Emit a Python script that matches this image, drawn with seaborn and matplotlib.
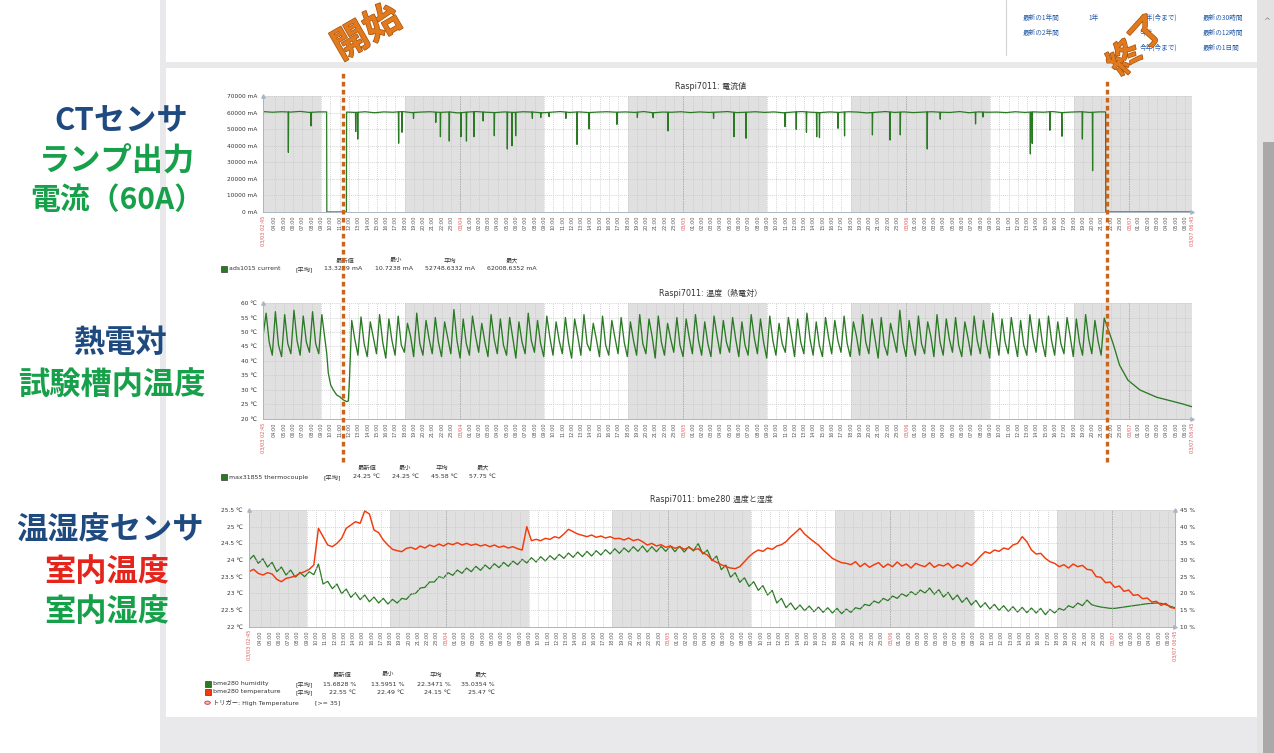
import numpy as np
import pandas as pd
import matplotlib
matplotlib.use("Agg")
import matplotlib.pyplot as plt
from matplotlib.patches import Rectangle, Circle
from matplotlib.lines import Line2D
import matplotlib.patheffects as pe
import seaborn as sns

# ------------------------------------------------------------------ data
START_LABEL = "03/03 02:45"
END_LABEL = "03/07 06:45"
SPAN_HOURS = 100          # 03/03 02:45 -> 03/07 06:45
START_CLOCK = 2.75        # 02:45
FIRST_DAY = 3

nonwork_start = [0.0, 15.25, 39.25, 63.25, 87.25]
nonwork_end = [6.25, 30.25, 54.25, 78.25, 100.0]

event_hours = [8.6, 90.85]
event_labels = ["開始", "終了"]

chart_titles = ["Raspi7011: 電流値", "Raspi7011: 温度（熱電対）", "Raspi7011: bme280 温度と湿度"]

# CT sensor current (mA): hourly baseline while the lamp is on, plus short dips
cur_on1_start, cur_on1_end = 0.0, 6.85
cur_on1 = [60600, 60200, 60500, 60300, 60700, 60100, 60400]
cur_on2_start, cur_on2_end = 9.0, 90.7
cur_on2 = [60300, 60100, 60500, 59900, 60400, 60200, 60600, 60000, 60300, 60500,
           60100, 60400, 59800, 60300, 60600, 60200, 60000, 60400, 60100, 60500,
           60300, 59900, 60200, 60600, 60100, 60400, 60000, 60300, 60500, 60200,
           60400, 60100, 60600, 59900, 60300, 60200, 60500, 60000, 60400, 60100,
           60300, 60600, 60000, 60200, 60500, 60100, 60400, 59900, 60300, 60600,
           60200, 60000, 60400, 60100, 60500, 60300, 59800, 60200, 60600, 60100,
           60400, 60000, 60300, 60500, 60200, 60100, 60600, 59900, 60400, 60200,
           60300, 60000, 60500, 60100, 60400, 60200, 60600, 60000, 60300, 60500,
           60100, 60400]
cur_off_mA = 12.0
spike_h = [2.73, 5.17, 9.98, 10.2, 14.6, 14.96, 16.2, 18.6, 19.1, 20.05,
           21.3, 21.9, 22.7, 23.7, 24.9, 26.3, 26.8, 27.2, 29.0, 29.9,
           30.8, 32.6, 33.8, 35.1, 38.1, 40.3, 42.0, 43.6, 48.5, 50.7,
           52.0, 56.2, 57.4, 58.5, 59.6, 59.9, 61.9, 62.6, 65.6, 67.5,
           68.6, 71.5, 72.9, 76.7, 77.5, 82.6, 82.8, 84.7, 86.0, 88.2, 89.3]
spike_mA = [36000, 51900, 48500, 44000, 41500, 48100, 56500, 54100, 45400, 42800,
            45400, 42800, 45400, 54900, 46000, 38000, 40000, 46000, 56500, 57000,
            57500, 56500, 40800, 50100, 52900, 57000, 56900, 48900, 56500, 45400,
            44500, 51500, 49900, 48100, 45400, 44900, 50500, 45900, 46500, 43400,
            46500, 38000, 56000, 53100, 57300, 35000, 41400, 49300, 45700, 44000, 24900]

# thermocouple (deg C)
tc_run1 = [48.5, 56.5, 46.5, 42.0, 57.0, 45.5, 41.5, 56.0, 46.0, 42.5,
           57.5, 47.0, 42.0, 55.5, 46.5, 43.0, 57.0, 46.0, 42.5, 56.0]   # every 20 min
tc_off_h = [6.55, 6.86, 7.03, 7.29, 7.57, 7.93, 8.29, 8.64, 9.0, 9.18, 9.3]
tc_off_c = [50.5, 42.6, 35.8, 31.7, 30.0, 28.3, 27.6, 26.6, 26.0, 26.2, 33.0]
tc_run2_start = 9.55
tc_peak = [54.0, 55.2, 53.5, 56.0, 54.5, 55.5, 53.0, 56.5, 54.0, 55.0,
           53.5, 57.75, 54.5, 55.5, 53.0, 56.0, 54.5, 55.0, 53.5, 56.5,
           54.0, 55.5, 53.5, 55.0, 54.5, 56.0, 53.0, 55.5, 54.0, 55.0,
           53.5, 56.0, 54.5, 55.5, 53.0, 55.0, 54.5, 56.0, 53.5, 55.5,
           54.0, 55.0, 53.5, 56.0, 54.5, 55.5, 53.0, 55.0, 54.5, 56.5,
           53.5, 55.0, 54.0, 55.5, 53.5, 56.0, 54.5, 55.0, 53.0, 57.5,
           54.0, 55.5, 53.5, 56.0, 54.5, 55.0, 53.5, 55.5, 54.0, 56.5,
           54.5, 55.0, 54.0, 56.0, 54.5, 55.5, 53.5, 55.0, 54.5, 56.0,
           54.0, 54.8]
tc_mid = [47.5, 46.0, 48.0, 46.5, 47.0, 45.5, 48.5, 46.0, 47.5, 46.5,
          48.0, 47.0, 46.0, 48.5, 46.5, 47.5, 45.5, 48.0, 46.5, 47.0,
          46.0, 48.0, 47.0, 46.5, 48.5, 46.0, 47.5, 45.5, 48.0, 46.5,
          47.0, 46.0, 48.5, 46.5, 47.5, 45.5, 48.0, 47.0, 46.0, 48.5,
          46.5, 47.5, 45.5, 48.0, 46.5, 47.0, 46.0, 48.5, 46.5, 47.5,
          45.5, 48.0, 47.0, 46.0, 48.5, 46.5, 47.5, 45.5, 48.0, 46.5,
          47.0, 46.0, 48.5, 46.5, 47.5, 45.5, 48.0, 47.0, 46.0, 48.0,
          46.5, 47.5, 45.5, 48.0, 46.5, 47.0, 46.0, 48.5, 46.5, 47.5,
          47.0]
tc_low = [42.0, 41.5, 42.5, 41.0, 42.0, 43.0, 41.5, 42.0, 42.5, 41.5,
          42.5, 41.0, 42.0, 43.0, 41.5, 42.5, 42.0, 41.0, 42.5, 43.0,
          41.5, 42.0, 42.5, 41.0, 42.0, 43.5, 41.5, 42.0, 42.5, 41.5,
          42.0, 42.5, 41.0, 42.0, 43.0, 41.5, 42.5, 42.0, 41.5, 42.5,
          43.0, 41.5, 42.0, 42.5, 41.0, 42.0, 43.0, 41.5, 42.5, 42.0,
          41.5, 42.5, 43.0, 41.5, 42.0, 42.5, 41.0, 42.0, 43.0, 41.5,
          42.0, 42.5, 41.5, 42.0, 43.0, 41.5, 42.0, 42.5, 41.0, 42.0,
          42.5, 41.5, 42.0, 43.0, 41.5, 42.0, 42.5, 41.5, 42.0, 42.5,
          42.0]
tc_cool_h = [91.0, 91.5, 92.2, 93.1, 94.4, 96.2, 98.0, 99.0, 99.8, 100.0]
tc_cool_c = [50.7, 46.1, 38.6, 33.4, 30.0, 27.5, 26.0, 25.2, 24.4, 24.25]

# bme280, every 30 minutes from 03/03 02:45
bme_humidity = [30.0, 31.4, 29.0, 30.4, 27.9, 29.3, 26.5, 27.9, 25.5, 27.0,
                24.8, 26.3, 25.0, 26.5, 25.6, 28.8, 22.8, 23.6, 21.4, 22.8,
                19.9, 21.3, 18.8, 20.2, 18.1, 19.5, 17.5, 18.9, 17.1, 18.5,
                16.8, 18.2, 17.1, 18.5, 18.2, 19.8, 20.0, 21.6, 21.8, 23.4,
                23.4, 25.0, 24.6, 26.2, 25.4, 27.0, 26.0, 27.6, 26.5, 28.1,
                26.9, 28.5, 27.3, 28.9, 27.7, 29.3, 28.1, 29.7, 28.6, 30.2,
                29.1, 30.7, 29.4, 31.0, 29.7, 31.3, 30.1, 31.7, 30.5, 32.1,
                30.8, 32.4, 31.0, 32.6, 31.2, 32.8, 31.5, 33.1, 31.8, 33.4,
                32.0, 33.6, 32.4, 34.0, 32.6, 34.2, 32.4, 34.0, 32.5, 34.1,
                32.6, 34.2, 32.5, 34.1, 32.4, 34.0, 32.7, 35.0, 31.8, 33.0,
                29.8, 31.2, 27.1, 28.5, 24.8, 26.2, 23.3, 24.7, 22.1, 23.5,
                20.9, 22.3, 19.5, 20.9, 17.1, 18.5, 15.7, 17.1, 15.1, 16.5,
                14.8, 16.2, 14.5, 15.9, 14.3, 15.7, 14.1, 15.5, 13.9, 15.3,
                14.3, 15.7, 15.3, 16.7, 16.3, 17.7, 17.1, 18.5, 17.8, 19.2,
                18.5, 19.9, 19.1, 20.5, 19.6, 21.0, 20.1, 21.6, 19.7, 21.1,
                18.9, 20.3, 18.1, 19.5, 17.3, 18.7, 16.5, 17.9, 15.8, 17.2,
                15.3, 16.7, 14.9, 16.3, 14.6, 16.0, 14.4, 15.8, 14.2, 15.6,
                14.1, 15.5, 13.6, 15.2, 14.1, 15.5, 14.9, 16.3, 15.7, 17.1,
                16.3, 18.0, 16.6, 16.2, 15.9, 15.7, 15.5, 15.5, 15.7, 15.9,
                16.1, 16.3, 16.5, 16.7, 16.9, 17.0, 17.1, 17.0, 16.6, 16.1,
                15.68]
bme_temperature = [23.65, 23.72, 23.60, 23.55, 23.62, 23.58, 23.42, 23.35, 23.45, 23.48,
                   23.52, 23.60, 23.65, 23.72, 23.85, 24.95, 24.70, 24.45, 24.40, 24.50,
                   24.65, 24.95, 25.05, 25.15, 25.10, 25.47, 25.38, 24.90, 24.82, 24.60,
                   24.45, 24.32, 24.28, 24.25, 24.35, 24.38, 24.32, 24.42, 24.36, 24.45,
                   24.40, 24.48, 24.42, 24.50, 24.46, 24.52, 24.45, 24.50, 24.44, 24.48,
                   24.42, 24.46, 24.40, 24.45, 24.38, 24.42, 24.36, 24.40, 24.34, 24.30,
                   25.00, 24.58, 24.62, 24.58, 24.65, 24.62, 24.70, 24.66, 24.78, 24.92,
                   24.85, 24.78, 24.74, 24.70, 24.75, 24.68, 24.72, 24.66, 24.70, 24.64,
                   24.65, 24.60, 24.66, 24.58, 24.62, 24.55, 24.45, 24.50, 24.42, 24.46,
                   24.38, 24.42, 24.35, 24.40, 24.32, 24.38, 24.30, 24.34, 24.22, 24.15,
                   24.00, 23.93, 23.86, 23.80, 23.76, 23.74, 23.80, 23.95, 24.10, 24.22,
                   24.30, 24.26, 24.36, 24.32, 24.42, 24.46, 24.55, 24.70, 24.82, 24.95,
                   24.78, 24.66, 24.55, 24.45, 24.30, 24.18, 24.05, 23.98, 23.92, 23.90,
                   23.86, 23.95, 23.80, 23.90, 23.78, 23.86, 23.92, 23.78, 23.88, 23.80,
                   23.94, 23.82, 23.88, 23.76, 23.90, 23.84, 23.80, 23.92, 23.78, 23.86,
                   23.82, 23.90, 23.76, 23.86, 23.80, 23.92, 23.84, 23.96, 24.12, 24.25,
                   24.20, 24.30, 24.26, 24.36, 24.32, 24.45, 24.50, 24.70, 24.55, 24.30,
                   24.18, 24.20, 24.05, 23.95, 23.90, 23.80, 23.86, 23.76, 23.88, 23.80,
                   23.84, 23.72, 23.70, 23.50, 23.48, 23.32, 23.34, 23.18, 23.22, 23.06,
                   23.10, 22.94, 22.96, 22.84, 22.86, 22.74, 22.76, 22.64, 22.70, 22.58,
                   22.55]

# legend tables
legend_headers = ["最新値", "最小", "平均", "最大"]
cur_name, cur_stats = "ads1015 current", ["13.3229 mA", "10.7238 mA", "52748.6332 mA", "62008.6352 mA"]
tc_name, tc_stats = "max31855 thermocouple", ["24.25 ℃", "24.25 ℃", "45.58 ℃", "57.75 ℃"]
hum_name, hum_stats = "bme280 humidity", ["15.6828 %", "13.5951 %", "22.3471 %", "35.0354 %"]
tmp_name, tmp_stats = "bme280 temperature", ["22.55 ℃", "22.49 ℃", "24.15 ℃", "25.47 ℃"]
trigger_text, trigger_cond = "トリガー: High Temperature", "[>= 35]"
avg_tag = "[平均]"

side_labels = [("CTセンサ", "blue"), ("ランプ出力", "green"), ("電流（60A）", "green"),
               ("熱電対", "blue"), ("試験槽内温度", "green"),
               ("温湿度センサ", "blue"), ("室内温度", "red"), ("室内湿度", "green")]

page_links = [("最新の1年間", 1023, 18), ("1年", 1088, 18), ("今年(今まで)", 1140, 18), ("最新の30時間", 1203, 18),
              ("最新の2年間", 1023, 33), ("今年", 1140, 33), ("最新の12時間", 1203, 33),
              ("今年(今まで)", 1140, 48), ("最新の1日間", 1203, 48)]

# ------------------------------------------------------------------ build frames
def build_current():
    t = list(cur_on1_start + np.arange(len(cur_on1))) + [cur_on1_end, cur_on1_end + 0.02, cur_on2_start - 0.02]
    v = list(cur_on1) + [cur_on1[-1], cur_off_mA, cur_off_mA]
    t += list(cur_on2_start + np.arange(len(cur_on2))) + [cur_on2_end, cur_on2_end + 0.02, SPAN_HOURS]
    v += list(cur_on2) + [cur_on2[-1], cur_off_mA, cur_off_mA]
    t = np.array(t, float)
    v = np.array(v, float)
    st, sv = [], []
    for h, mA in zip(spike_h, spike_mA):
        b = np.interp(h, t, v)
        st += [h - 0.03, h, h + 0.03]
        sv += [b, mA, b]
    t = np.concatenate([t, st])
    v = np.concatenate([v, sv])
    o = np.argsort(t, kind="stable")
    return pd.DataFrame({"hours": t[o], "mA": v[o]})


def build_thermo():
    run2 = []
    for k in range(len(tc_mid)):
        run2 += [tc_peak[k], tc_mid[k], tc_low[k]]
    run2.append(tc_peak[len(tc_mid)])
    t = np.concatenate([np.arange(len(tc_run1)) / 3.0, tc_off_h,
                        tc_run2_start + np.arange(len(run2)) / 3.0, tc_cool_h])
    v = np.concatenate([tc_run1, tc_off_c, run2, tc_cool_c])
    return pd.DataFrame({"hours": t, "degC": v})


df_cur = build_current()
df_tc = build_thermo()
df_bme = pd.DataFrame({"hours": np.arange(len(bme_humidity)) * 0.5,
                       "humidity": bme_humidity, "temperature": bme_temperature})

# ------------------------------------------------------------------ style
sns.set_theme(style="white")
plt.rcParams["font.family"] = ["DejaVu Sans", "Noto Sans CJK JP"]
CJK = ["Noto Sans CJK JP", "DejaVu Sans"]

W, H = 1274, 753
PAGE = "#e9e9eb"
BAND = "#e0e0e0"
GRID = "#c6c6c6"
AXC = "#aab6c3"
GREEN = "#2a7a24"
RED = "#f23a0c"
TXT = "#333333"
DATE_RED = "#dd5a5a"
ORANGE = "#e07a1c"
LABEL_COLORS = {"blue": "#1f4a80", "green": "#17a04a", "red": "#e5251b"}

fig = plt.figure(figsize=(W / 100, H / 100), dpi=100)
fig.patch.set_facecolor("white")


def rect(x0, y0, x1, y1, color, z=-10):
    fig.add_artist(Rectangle((x0 / W, 1 - y1 / H), (x1 - x0) / W, (y1 - y0) / H,
                             transform=fig.transFigure, facecolor=color, edgecolor="none", zorder=z))


def ftext(x, y, s, **kw):
    return fig.text(x / W, 1 - y / H, s, **kw)


# page background
rect(160, 0, 1274, 753, PAGE)
rect(166, 0, 1257, 62, "white", -9)
rect(166, 68, 1257, 717, "white", -9)
rect(1257, 0, 1274, 753, "#e3e3e3", -9)
rect(1263, 142, 1274, 753, "#a9a9a9", -8)
fig.add_artist(Line2D([1006 / W, 1006 / W], [1 - 55 / H, 1.0], transform=fig.transFigure,
                      color="#d3d3d3", lw=0.8, zorder=-7))
ftext(1267, 22, "^", fontsize=6, color="#888888", ha="center", va="center")
for s, x, y in page_links:
    ftext(x, y, s, fontsize=4.8, color="#2a5ea8", ha="left", va="center", family=CJK)

# time axis ticks
tick_pos, tick_lab, tick_red = [0.0], [START_LABEL], [True]
day_pos = []
for k in range(1, SPAN_HOURS):
    clock = 3 + k
    pos = clock - START_CLOCK
    tick_pos.append(pos)
    if clock % 24 == 0:
        tick_lab.append(f"03/{FIRST_DAY + clock // 24:02d}")
        tick_red.append(True)
        day_pos.append(pos)
    else:
        tick_lab.append(f"{clock % 24:02d}:00")
        tick_red.append(False)
tick_pos.append(SPAN_HOURS)
tick_lab.append(END_LABEL)
tick_red.append(True)


def add_ax(l, t, r, b):
    return fig.add_axes([l / W, 1 - b / H, (r - l) / W, (b - t) / H])


def style_axis(ax, ylim, yticks, ylabels, bands=True):
    ax.set_xlim(0, SPAN_HOURS)
    ax.set_ylim(*ylim)
    if bands:
        for s, e in zip(nonwork_start, nonwork_end):
            ax.axvspan(s, e, facecolor=BAND, lw=0, zorder=0)
    ax.set_yticks(yticks, ylabels)
    ax.set_xticks(tick_pos, tick_lab)
    for lbl, r in zip(ax.get_xticklabels(), tick_red):
        lbl.set_color(DATE_RED if r else "#555555")
    ax.tick_params(axis="x", length=0, pad=2.5, labelsize=3.6, labelrotation=90)
    ax.tick_params(axis="y", length=0, pad=4.3, labelsize=4.2, labelcolor=TXT)
    ax.grid(True, axis="both", color=GRID, lw=0.5, ls=(0, (1.5, 1.5)))
    for d in day_pos:
        ax.axvline(d, color="#a4a4a4", lw=0.6, ls=(0, (1.5, 1.5)), zorder=0.6)
    ax.set_axisbelow(True)
    for sp in ["top", "right"]:
        ax.spines[sp].set_visible(False)
    for sp in ["left", "bottom"]:
        ax.spines[sp].set_color(AXC)
        ax.spines[sp].set_linewidth(0.7)
    ax.set_xlabel("")
    ax.set_ylabel("")
    ax.plot([0], [1], marker="^", ms=2.5, color=AXC, transform=ax.transAxes, clip_on=False)
    ax.plot([1], [0], marker=">", ms=2.5, color=AXC, transform=ax.transAxes, clip_on=False)


# ---- chart 1: current
ax1 = add_ax(263, 96, 1192, 212)
sns.lineplot(data=df_cur, x="hours", y="mA", ax=ax1, color=GREEN, lw=0.9, estimator=None, legend=False)
style_axis(ax1, (0, 70000), list(range(0, 70001, 10000)),
           [f"{v} mA" for v in range(0, 70001, 10000)])

# ---- chart 2: thermocouple
ax2 = add_ax(263, 303, 1192, 419)
sns.lineplot(data=df_tc, x="hours", y="degC", ax=ax2, color=GREEN, lw=0.95, estimator=None, legend=False)
style_axis(ax2, (20, 60), list(range(20, 61, 5)), [f"{v} ℃" for v in range(20, 61, 5)])

# ---- chart 3: bme280
ax3 = add_ax(249, 510, 1175, 626.7)
ax3t = ax3.twinx()
ax3.set_zorder(2)
ax3t.set_zorder(1)
ax3.patch.set_visible(False)
ax3t.patch.set_visible(True)
ax3t.patch.set_facecolor("white")
sns.lineplot(data=df_bme, x="hours", y="humidity", ax=ax3t, color=GREEN, lw=0.9, estimator=None, legend=False)
sns.lineplot(data=df_bme, x="hours", y="temperature", ax=ax3, color=RED, lw=1.05, estimator=None, legend=False)
t_ticks = [22, 22.5, 23, 23.5, 24, 24.5, 25, 25.5]
style_axis(ax3, (22, 25.5), t_ticks, [f"{v:g} ℃" for v in t_ticks], bands=False)
ax3t.set_xlim(0, SPAN_HOURS)
for s, e in zip(nonwork_start, nonwork_end):
    ax3t.axvspan(s, e, facecolor=BAND, lw=0, zorder=0)
ax3t.set_ylim(10, 45)
ax3t.set_yticks(list(range(10, 46, 5)), [f"{v} %" for v in range(10, 46, 5)])
ax3t.tick_params(axis="y", length=0, pad=3.5, labelsize=4.2, labelcolor=TXT)
ax3t.grid(False)
ax3t.set_ylabel("")
for sp in ["top", "left", "bottom"]:
    ax3t.spines[sp].set_visible(False)
ax3t.spines["right"].set_color(AXC)
ax3t.spines["right"].set_linewidth(0.7)
ax3.plot([1], [1], marker="^", ms=2.5, color=AXC, transform=ax3.transAxes, clip_on=False)

# ---- titles
for title, y in zip(chart_titles, [86, 293, 499]):
    ftext(711, y, title, fontsize=5.8, color=TXT, ha="center", va="center")


# ---- legends
def square(x, y, color):
    fig.add_artist(Rectangle((x / W, 1 - (y + 3) / H), 6 / W, 6 / H, transform=fig.transFigure,
                             facecolor=color, edgecolor="#1c1c1c", lw=0.4, zorder=5))


def legend_table(hdr_y, hdr_x, rows, val_right, sq_x, tag_x):
    for h, x in zip(legend_headers, hdr_x):
        ftext(x, hdr_y, h, fontsize=4.5, color=TXT, ha="center", va="center")
    for name, color, stats, y in rows:
        square(sq_x, y, color)
        ftext(sq_x + 8.5, y, name, fontsize=4.5, color=TXT, ha="left", va="center")
        ftext(tag_x, y, avg_tag, fontsize=4.5, color=TXT, ha="left", va="center")
        for s, x in zip(stats, val_right):
            ftext(x, y, s, fontsize=4.5, color=TXT, ha="right", va="center")


legend_table(261, [345, 396, 450, 512], [(cur_name, GREEN, cur_stats, 269)],
             [362, 413, 475, 537], 220.5, 295)
legend_table(468, [367, 405, 442, 483], [(tc_name, GREEN, tc_stats, 477)],
             [380, 419, 458, 496], 220.5, 323)
legend_table(675, [342, 388, 436, 481],
             [(hum_name, GREEN, hum_stats, 684), (tmp_name, RED, tmp_stats, 692)],
             [356, 404, 451, 495], 204.5, 295)
fig.add_artist(Circle((207.5 / W, 1 - 702.7 / H), 2.8 / W, transform=fig.transFigure,
                      facecolor="#f5b4b0", edgecolor="#b04848", lw=0.6, zorder=5))
ftext(213, 703, trigger_text, fontsize=4.5, color=TXT, ha="left", va="center")
ftext(315, 703, trigger_cond, fontsize=4.5, color=TXT, ha="left", va="center")

# ---- side labels
side_pos = [(121, 120), (117, 162), (117, 200), (120, 343), (112, 385),
            (110, 530), (107, 572), (107, 612)]
for (txt, cname), (x, y) in zip(side_labels, side_pos):
    is_blue = cname == "blue"
    ftext(x, y, txt, fontsize=22.5 if txt != "電流（60A）" else 21.5, color=LABEL_COLORS[cname],
          ha="center", va="center", weight="bold", style="italic" if is_blue else "normal", family=CJK)

# ---- start / end markers
marker_cfg = [(70, 24, 33, 30, 26), (80, 30, 46, 48, 24)]
for hour, lab, (y_top, dx, ty, rot, fs) in zip(event_hours, event_labels, marker_cfg):
    xpix = ax1.transData.transform((hour, 0))[0]
    fig.add_artist(Line2D([xpix / W, xpix / W], [1 - 462 / H, 1 - y_top / H], transform=fig.transFigure,
                          color="#c9651c", lw=2.4, ls=(0, (1.4, 1.0)), solid_capstyle="butt",
                          dash_capstyle="butt", zorder=20))
    t = ftext(xpix + dx, ty, lab, fontsize=fs, color=ORANGE, ha="center", va="center", rotation=rot,
              weight="bold", family=CJK, zorder=21)
    t.set_path_effects([pe.withStroke(linewidth=1.0, foreground="#a8520f")])

fig.savefig("out.png", dpi=100)
